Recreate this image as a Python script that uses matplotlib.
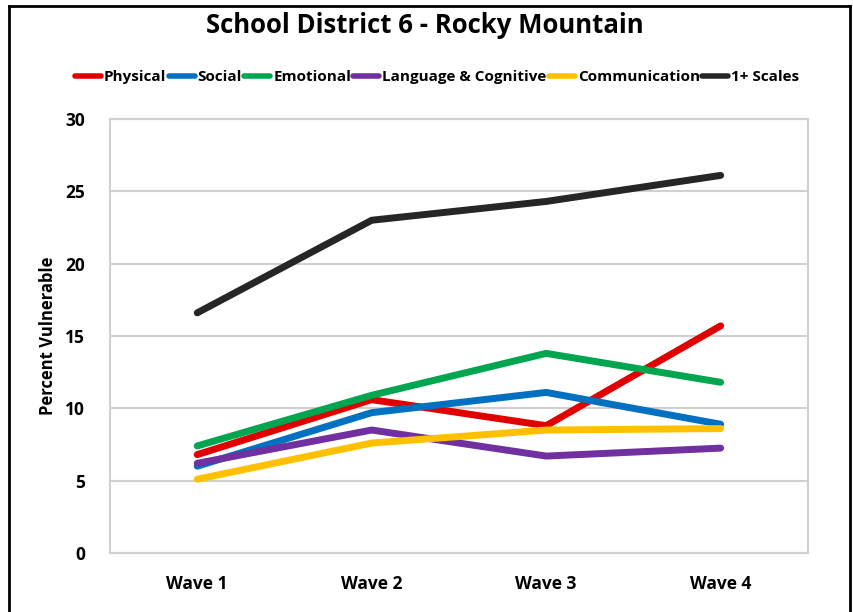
import matplotlib.pyplot as plt
from matplotlib.lines import Line2D

plt.rcParams['font.family'] = ['Open Sans', 'DejaVu Sans']

# data
waves = ['Wave 1', 'Wave 2', 'Wave 3', 'Wave 4']
physical = [6.8, 10.6, 8.8, 15.7]
social = [6.0, 9.7, 11.1, 8.9]
emotional = [7.4, 10.9, 13.8, 11.8]
language = [6.2, 8.5, 6.7, 7.25]
communication = [5.1, 7.6, 8.5, 8.6]
one_plus = [16.6, 23.0, 24.3, 26.1]

series = [
    ('Physical', physical, '#E00000'),
    ('Social', social, '#0070C0'),
    ('Emotional', emotional, '#00A550'),
    ('Language & Cognitive', language, '#7030A0'),
    ('Communication', communication, '#FFC000'),
    ('1+ Scales', one_plus, '#262626'),
]

fig = plt.figure(figsize=(8.54, 6.12), dpi=100)
ax = fig.add_axes([0.1288, 0.0964, 0.8172, 0.7092])

x = range(len(waves))
for name, vals, col in series:
    ax.plot(x, vals, color=col, lw=5, label=name, solid_capstyle='round',
            solid_joinstyle='round')

ax.set_xlim(-0.5, 3.5)
ax.set_ylim(0, 30)
ax.set_yticks(range(0, 31, 5))
ax.set_xticks(list(x))
ax.set_xticklabels(waves)
ax.tick_params(length=0, labelsize=12.5)
for lab in ax.get_xticklabels() + ax.get_yticklabels():
    lab.set_fontweight('bold')
ax.tick_params(axis='x', pad=16)
ax.tick_params(axis='y', pad=18)
ax.grid(axis='y', color='#D0D0D0', lw=1.5)
ax.set_axisbelow(True)
for sp in ax.spines.values():
    sp.set_color('#D0D0D0')
    sp.set_linewidth(1.5)
ax.set_ylabel('Percent Vulnerable', fontsize=12, fontweight='bold', labelpad=6)

fig.suptitle('School District 6 - Rocky Mountain', fontsize=18.5, fontweight='bold',
             x=0.497, y=0.98)
leg = fig.legend(loc='center', bbox_to_anchor=(0.512, 0.874), ncol=6, frameon=False,
                 handlelength=1.7, handletextpad=0.2, columnspacing=0.15,
                 prop={'weight': 'bold', 'size': 11})
for h in leg.get_lines():
    h.set_linewidth(4)

# outer frame (no bottom edge)
fig.add_artist(Line2D([0.010, 0.010], [0, 0.991], transform=fig.transFigure, color='black', lw=2))
fig.add_artist(Line2D([0.995, 0.995], [0, 0.991], transform=fig.transFigure, color='black', lw=2))
fig.add_artist(Line2D([0.010, 0.995], [0.991, 0.991], transform=fig.transFigure, color='black', lw=2))

fig.savefig('out.png', dpi=100)
